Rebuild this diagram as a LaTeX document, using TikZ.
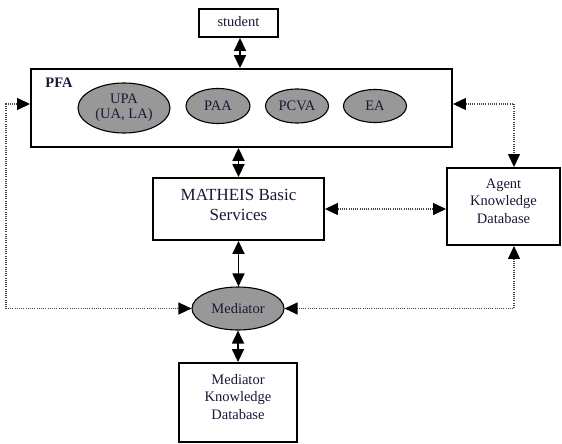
\documentclass[tikz,border=0pt]{standalone}
\usepackage{fontspec}
\setmainfont{Liberation Serif}
\usetikzlibrary{arrows.meta,shapes.geometric}
\definecolor{elfill}{RGB}{152,152,152}
\definecolor{txtcol}{RGB}{25,25,55}
\definecolor{dotcol}{RGB}{70,70,70}
\begin{document}
\begin{tikzpicture}[x=1pt,y=-1pt,
  box/.style={draw,line width=1.9pt,inner sep=0pt},
  agentell/.style={ellipse,draw,line width=1.1pt,fill=elfill,inner sep=0pt,
    text=txtcol,align=center,font=\fontsize{14.5}{15.5}\selectfont},
  txt/.style={inner sep=0pt,align=center,text=txtcol,font=\fontsize{14.5}{17.5}\selectfont},
  bigtxt/.style={inner sep=0pt,align=center,text=txtcol,font=\fontsize{17}{20}\selectfont},
  solidarrow/.style={line width=1.8pt,
    {Triangle[length=13pt,width=12pt]}-{Triangle[length=13pt,width=12pt]}},
  dotarrow/.style={line width=1.2pt,draw=dotcol,dash pattern=on 1pt off 1.2pt,
    {Triangle[length=13pt,width=12pt,color=black,fill=black]}-{Triangle[length=13pt,width=12pt,color=black,fill=black]}}
]
\useasboundingbox[fill=white] (0,0) rectangle (562,444);

% boxes
\node[box,minimum width=79pt,minimum height=28pt] (student) at (238.5,23) {};
\node[txt] (studenttxt) at (238.5,22) {student};

\node[box,minimum width=421pt,minimum height=78pt] (pfa) at (241.5,108) {};
\node[inner sep=0pt,text=txtcol,font=\bfseries\fontsize{14.5}{16}\selectfont] (pfalbl) at (59,83) {PFA};

\node[agentell,minimum width=92pt,minimum height=50pt] (upa) at (124,108) {UPA\\(UA, LA)};
\node[agentell,minimum width=64pt,minimum height=35pt] (paa) at (218,106) {PAA};
\node[agentell,minimum width=63pt,minimum height=34pt] (pcva) at (297,106) {PCVA};
\node[agentell,minimum width=63pt,minimum height=33pt] (ea) at (375,106) {EA};

\node[box,minimum width=171pt,minimum height=62pt] (matheis) at (238.5,209) {};
\node[bigtxt] (matheistxt) at (238.5,205) {MATHEIS Basic\\Services};

\node[box,minimum width=113pt,minimum height=77pt] (agent) at (503.5,206.5) {};
\node[txt] (agenttxt) at (503.5,201) {Agent\\Knowledge\\Database};

\node[agentell,minimum width=92pt,minimum height=43pt] (mediator) at (238,308.5) {Mediator};

\node[box,minimum width=118pt,minimum height=79pt] (mkd) at (238,402.5) {};
\node[txt] (mkdtxt) at (238,397) {Mediator\\Knowledge\\Database};

% solid connectors
\draw[solidarrow] ([xshift=1.5pt]student.south) -- ([xshift=1.5pt]student.south |- pfa.north);
\draw[solidarrow] (pfa.south -| matheis.north) -- (matheis.north);
\draw[solidarrow] (matheis.south) -- (matheis.south |- mediator.north);
\draw[solidarrow] (mediator.south) -- (mediator.south |- mkd.north);

% dotted connectors
\draw[dotarrow] ([yshift=4pt]pfa.west) -- ++(-24,0) |- (mediator.west);
\draw[dotarrow] ([yshift=4pt]pfa.east) -| ([xshift=10.5pt]agent.north);
\draw[dotarrow] ([xshift=10.5pt]agent.south) |- (mediator.east);
\draw[dotarrow] (matheis.east) -- (matheis.east -| agent.west);
\end{tikzpicture}
\end{document}
